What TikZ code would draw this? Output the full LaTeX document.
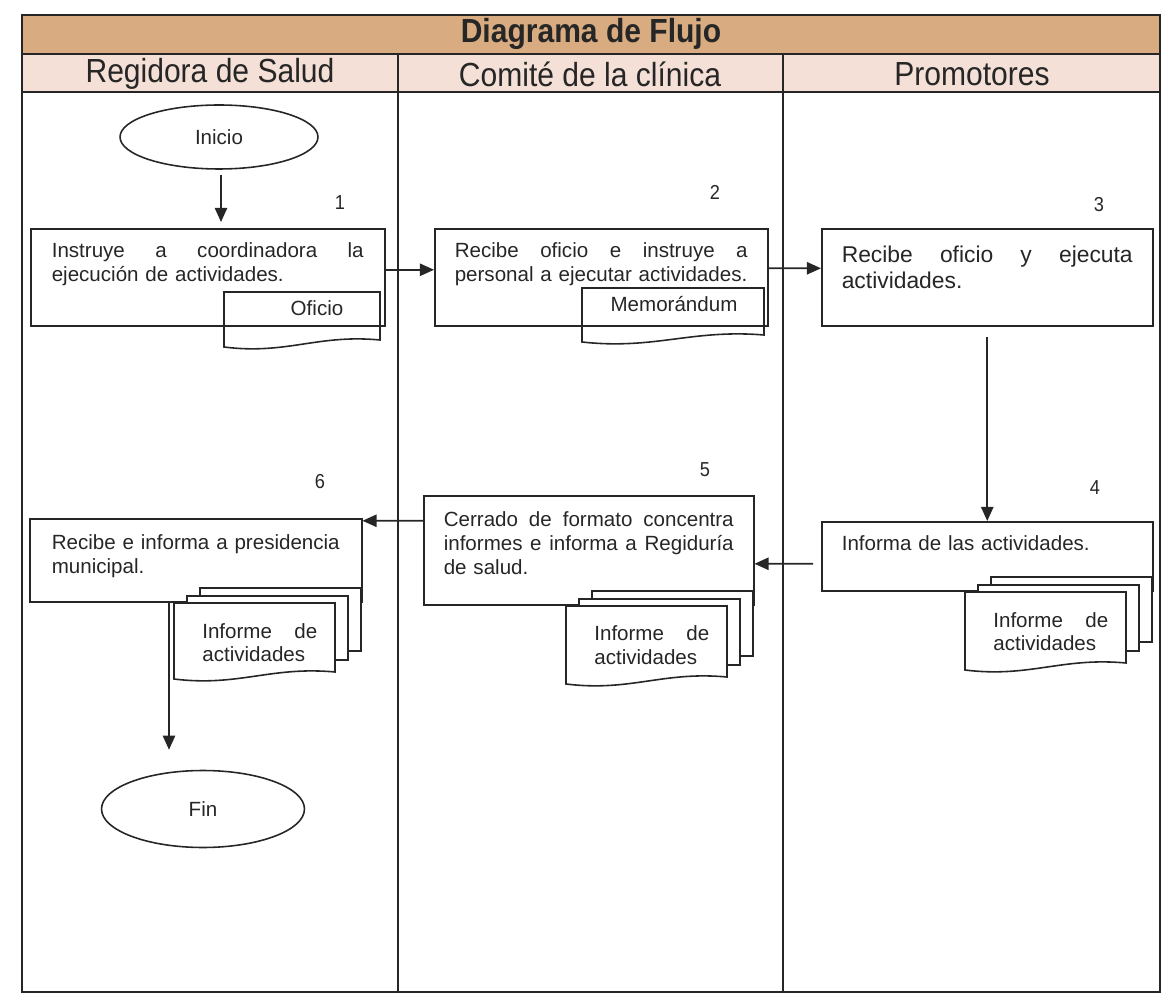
\documentclass[tikz,border=0pt]{standalone}
\usepackage{fontspec}
\setmainfont{Liberation Sans}
\newfontfamily\narrowfont[FakeStretch=0.9]{Liberation Sans}
\usetikzlibrary{shapes.geometric,arrows.meta,calc}
\definecolor{titletan}{HTML}{D8AB80}
\definecolor{lanepink}{HTML}{F4E0D6}
\definecolor{ink}{HTML}{262626}
% stretchable gap that beats any ragged-right glue: gives justified lines
\newcommand\gap{\hskip 0pt plus 1filll\relax}
% single document symbol (rectangle with wavy lower edge)
\newcommand\docshape[5][]{%
  \draw[docline,#1] ({#2},{#3}) -- ({#2+#4},{#3}) -- ({#2+#4},{#3+#5-7})
    .. controls ({#2+0.6*#4},{#3+#5-13}) and ({#2+0.4*#4},{#3+#5+8}) .. ({#2},{#3+#5}) -- cycle;}
% stacked documents: two plain sheets behind a wavy front sheet
\newcommand\docstack[4]{%
  \draw[page] ({#1+26},{#2-15}) rectangle ({#1+#3+26},{#2+#4-28});
  \draw[page] ({#1+13},{#2-7}) rectangle ({#1+#3+13},{#2+#4-19});
  \docshape[fill=white]{#1}{#2}{#3}{#4}}
\begin{document}
\begin{tikzpicture}[x=0.02cm,y=-0.02cm,
  frame/.style={draw=ink, line width=0.8pt},
  body/.style={font=\fontsize{11.7}{13.6}\selectfont, text=ink},
  proc/.style={body, draw=ink, line width=0.9pt, inner ysep=0pt, align=left,
    anchor=north west},
  term/.style={body, draw=ink, line width=0.9pt, ellipse, inner sep=0pt},
  docline/.style={draw=ink, line width=0.9pt},
  page/.style={draw=ink, line width=0.9pt, fill=white},
  doctxt/.style={body, inner sep=0pt, anchor=base west, text width=2.3cm, align=left},
  stepno/.style={font=\narrowfont\fontsize{11.5}{13}\selectfont, text=ink, inner sep=0pt},
  lane/.style={font=\narrowfont\fontsize{19}{22}\selectfont, text=ink, inner sep=0pt},
  arr/.style={draw=ink, line width=0.9pt, -{Triangle[length=8pt,width=7pt]}}
]
\useasboundingbox (0,0) rectangle (1163,1006);

% swimlane table
\fill[titletan] (22,15) rectangle (1160,54);
\fill[lanepink] (22,54) rectangle (1160,92);
\draw[frame] (22,15) rectangle (1160,992);
\draw[frame] (22,54) -- (1160,54);
\draw[frame] (22,92) -- (1160,92);
\draw[frame] (398,54) -- (398,992);
\draw[frame] (783,54) -- (783,992);
\draw[ink, line width=1.2pt] (22,992) -- (1160,992);

\node[lane] (title) at (591,34) {\bfseries Diagrama de Flujo};
\node[lane] (lane1) at (210,74) {Regidora de Salud};
\node[lane] (lane2) at (590,74) {Comité de la clínica};
\node[lane] (lane3) at (972,74) {Promotores};

% terminals
\node[term, minimum width=3.96cm, minimum height=1.28cm] (inicio) at (219,137) {Inicio};
\node[term, minimum width=4.06cm, minimum height=1.54cm] (fin) at (203,809) {Fin};

% single documents (lie under the process boxes)
\docshape{224}{292}{156}{55}
\node[body, anchor=base, inner sep=0pt] (oficio) at (317,316) {Oficio};
\docshape{582}{288}{182}{54}
\node[body, anchor=base, inner sep=0pt] (memo) at (674,312) {Memorándum};

% process boxes
\node[proc, text width=6.24cm, inner xsep=0.42cm, text height=0.58cm, text depth=1.36cm]
  (b1) at (30,228) {Instruye\gap a\gap coordinadora\gap la\\ejecución de actividades.};
\node[proc, text width=5.86cm, inner xsep=0.4cm, text height=0.58cm, text depth=1.36cm]
  (b2) at (434,228) {Recibe\gap oficio\gap e\gap instruye\gap a\\personal a ejecutar actividades.};
\node[proc, font=\fontsize{13}{14.7}\selectfont, text width=5.82cm, inner xsep=0.4cm,
  text height=0.68cm, text depth=1.26cm]
  (b3) at (821,228) {Recibe\gap oficio\gap y\gap ejecuta\\actividades.};
\node[proc, text width=5.82cm, inner xsep=0.4cm, text height=0.58cm, text depth=0.8cm]
  (b4) at (821,521) {Informa de las actividades.};
\node[proc, text width=5.8cm, inner xsep=0.4cm, text height=0.62cm, text depth=1.56cm]
  (b5) at (423,495) {Cerrado\gap de\gap formato\gap concentra\\informes\gap e\gap informa\gap a\gap Regiduría\\de salud.};
\node[proc, text width=5.76cm, inner xsep=0.44cm, text height=0.62cm, text depth=1.04cm]
  (b6) at (29,518) {Recibe e informa a presidencia\\municipal.};

% stacked reports
\docstack{965}{592}{161}{78}
\node[doctxt] (rep4) at (993,627) {Informe\gap de\\actividades};
\docstack{566}{606}{161}{78}
\node[doctxt] (rep5) at (594,641) {Informe\gap de\\actividades};
\docstack{174}{603}{161}{76}
\node[doctxt] (rep6) at (202,638) {Informe\gap de\\actividades};

% step numbers
\node[stepno] (n1) at (340,203) {1};
\node[stepno] (n2) at (715,192) {2};
\node[stepno] (n3) at (1099,205) {3};
\node[stepno] (n4) at (1095,488) {4};
\node[stepno] (n5) at (705,470) {5};
\node[stepno] (n6) at (320,482) {6};

% flow
\draw[arr] ($(inicio.south)+(2,5)$) -- ($(b1.north west)+(191,-6)$);
\draw[arr] ($(b1.east)+(0,-7.5)$) -- ($(b2.west)+(0,-7.5)$);
\draw[arr] ($(b2.east)+(0,-9)$) -- ($(b3.west)+(0,-9)$);
\draw[arr] ($(b3.south)+(0,10)$) -- (b4.north);
\draw[arr] ($(b4.west)+(-8,7.5)$) -- ($(b5.east)+(0,13.5)$);
\draw[arr] ($(b5.west)+(0,-29.5)$) -- ($(b6.east)+(0,-39.5)$);
\draw[arr] ($(b6.south west)+(140,0)$) -- ($(fin.north)+(-34,-20)$);
\end{tikzpicture}
\end{document}
